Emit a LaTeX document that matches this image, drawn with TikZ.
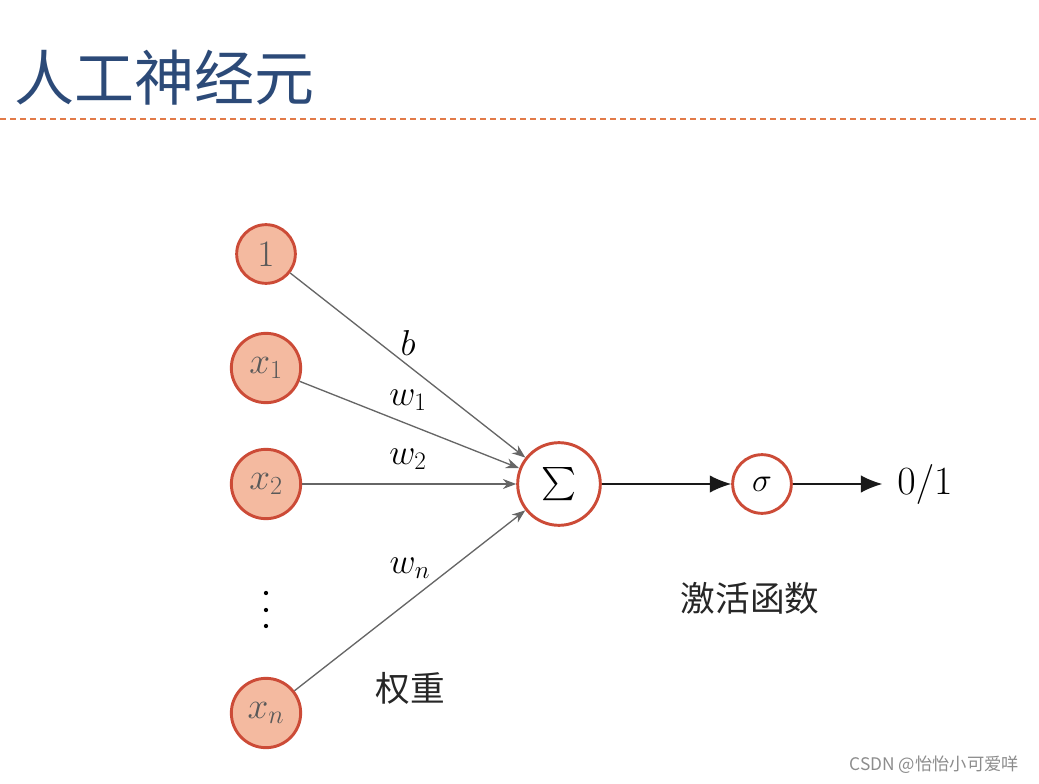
\RequirePackage{fix-cm}
\documentclass[tikz,border=0pt]{standalone}
\usepackage{exscale}
\usepackage{fontspec}
\newfontfamily\cjk{Noto Sans CJK SC}
\usetikzlibrary{arrows.meta,positioning}
\definecolor{titleblue}{RGB}{44,74,120}
\definecolor{neuronred}{RGB}{204,75,55}
\definecolor{neuronfill}{RGB}{244,186,160}
\definecolor{rulecolor}{RGB}{226,122,72}
\tikzset{every picture/.style={line width=0.75pt}}
\tikzset{
    input/.style={circle, draw=neuronred, fill=neuronfill, line width=2.2pt,
        inner sep=0pt, minimum size=52pt, text=black!65,
        font=\fontsize{28}{28}\selectfont},
    unit/.style={circle, draw=neuronred, fill=white, line width=2.2pt, inner sep=0pt},
    weight/.style={-{Stealth[length=10pt,width=7.5pt]}, draw=black!60, line width=1pt},
    flow/.style={-{Latex[length=16pt,width=13pt]}, draw=black!90, line width=1.1pt},
    wlabel/.style={font=\fontsize{27}{27}\selectfont},
    note/.style={font=\cjk\fontsize{26}{26}\selectfont, text=black!85},
}

\begin{document}
\begin{tikzpicture}[x=0.75pt, y=-0.75pt]
    \useasboundingbox (0,0) rectangle (1039,784);
    % title and rule
    \node[anchor=west, text=titleblue, font=\cjk\fontsize{45}{45}\selectfont] (title) at (10,78) {人工神经元};
    \draw[rulecolor, dashed, dash pattern=on 4.5pt off 3pt, line width=0.8pt] (0,119) -- (1039,119);
    % inputs
    \node[input, minimum size=44pt] (one) at (266,254) {$1$};
    \node[input] (x1) at (266,368) {$x_1$};
    \node[input] (x2) at (266,484) {$x_2$};
    \foreach \y in {593,610,626}
        \fill (266,\y) circle (1.6pt);
    \node[input] (xn) at (266,713) {$x_n$};
    % sum and activation
    \node[unit, minimum size=62pt, font=\fontsize{31}{31}\selectfont] (sum) at (559,484) {$\sum$};
    \node[unit, minimum size=44pt, font=\fontsize{25}{25}\selectfont] (act) at (762,484) {$\sigma$};
    \node[inner xsep=11pt, inner ysep=2pt, font=\fontsize{30}{30}\selectfont] (out) at (925,484) {$0/1$};
    % weights
    \draw[weight] (one) -- (sum);
    \draw[weight] (x1) -- (sum);
    \draw[weight] (x2) -- (sum);
    \draw[weight] (xn) -- (sum);
    \node[wlabel] (lb) at (408,343) {$b$};
    \node[wlabel] (lw1) at (408,400) {$w_1$};
    \node[wlabel] (lw2) at (408,459) {$w_2$};
    \node[wlabel] (lwn) at (410,568) {$w_n$};
    \draw[flow] (sum) -- (act);
    \draw[flow] (act) -- (out);
    % notes
    \node[note] (wnote) at (410,688) {权重};
    \node[note] (anote) at (750,598) {激活函数};
    \node[anchor=east, text=black!45, font=\cjk\fontsize{13}{13}\selectfont] (mark) at (1024,765) {CSDN @怡怡小可爱咩};
\end{tikzpicture}
\end{document}
